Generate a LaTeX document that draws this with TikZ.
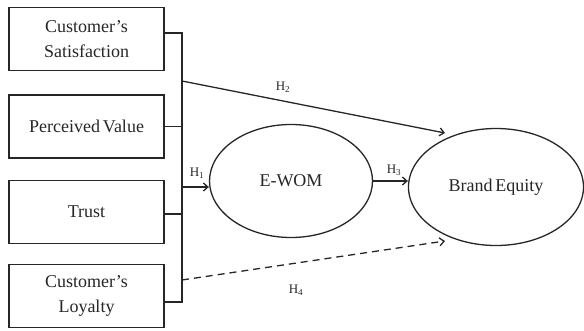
\documentclass[tikz,border=0pt]{standalone}
\usepackage{fontspec}
\setmainfont{Liberation Serif}
\usetikzlibrary{positioning}
\usetikzlibrary{calc}
\usetikzlibrary{shapes.geometric}
\usetikzlibrary{arrows.meta}

\begin{document}
\begin{tikzpicture}[x=1pt, y=-1pt, >={Straight Barb[length=4.5pt, width=8pt]}, line width=1.3pt,
        color=black!85, font=\fontsize{18}{25}\selectfont,
        factor/.style={draw, minimum width=155pt, minimum height=63pt, align=center, inner sep=0pt},
        latent/.style={draw, ellipse, inner sep=0pt},
        hyp/.style={font=\fontsize{13}{15}\selectfont}]
            \useasboundingbox (0,0) rectangle (584,331);
            \node [factor] (sat) at (86.5,39) {Customer’s\\Satisfaction};
            \node [factor] (value) at (86.5,126.5) {Perceived\,Value};
            \node [factor] (trust) at (86.5,212) {Trust};
            \node [factor] (loyal) at (86.5,296) {Customer’s\\Loyalty};
            \node [latent, minimum width=163pt, minimum height=113pt] (ewom) at (291,181) {E-WOM};
            \node [latent, minimum width=175pt, minimum height=117pt] (brand) at (496,187) {Brand\,Equity};

            \coordinate (bustop) at (182,33);
            \coordinate (busbot) at (182,302);
            \coordinate (hone) at (182,187);
            \coordinate (htwo) at (182,81);
            \coordinate (hfour) at (182,280);
            \coordinate (htwoend) at (445,133);
            \coordinate (hfourend) at (445,241);

            \draw ($(sat.east)+(0,-6)$) -- (bustop) -- (busbot) -- ($(loyal.east)+(0,6)$);
            \draw (value.east) -- (value.east -| bustop);
            \draw ($(trust.east)+(0,2)$) -- ($(trust.east -| bustop)+(0,2)$);

            \path [->] (hone) edge (hone -| ewom.west);
            \path [->] (htwo) edge (htwoend);
            \path [->] (ewom.east) edge (ewom.east -| brand.west);
            \path [->, dashed, dash pattern=on 7pt off 5pt] (hfour) edge (hfourend);

            \node [hyp] (lone) at (197,173) {H\textsubscript{1}};
            \node [hyp] (ltwo) at (283,87) {H\textsubscript{2}};
            \node [hyp] (lthree) at (394,170) {H\textsubscript{3}};
            \node [hyp] (lfour) at (296,290) {H\textsubscript{4}};
\end{tikzpicture}
\end{document}
